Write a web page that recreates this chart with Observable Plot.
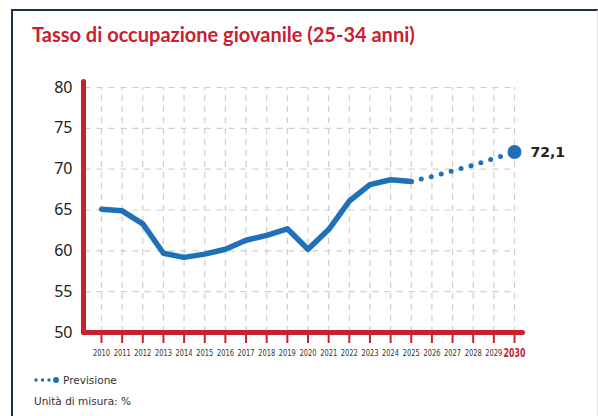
<!DOCTYPE html>
<html>
<head>
<meta charset="utf-8">
<script src="https://cdn.jsdelivr.net/npm/d3@7"></script>
<script src="https://cdn.jsdelivr.net/npm/@observablehq/plot@0.6"></script>
<style>
  html, body { margin: 0; padding: 0; background: #fff; }
  #wrap { position: relative; width: 598px; height: 416px; overflow: hidden; background: #fff; }
  #card { position: absolute; left: 11px; top: 9px; width: 584px; height: 420px;
          border-top: 2px solid #17324f; border-left: 2px solid #17324f; border-right: 1px solid #e2e2e2; }
  #title { position: absolute; left: 32px; top: 22px; font-family: Lato, sans-serif; font-weight: bold;
           font-size: 20px; color: #c8202f; white-space: nowrap; line-height: 1.2; }
  #chart { position: absolute; left: 0; top: 0; }
  #legend { position: absolute; left: 34px; top: 374px; font-family: "DejaVu Sans", sans-serif; font-size: 10.5px; color: #333; display: flex; align-items: center; }
  #unit { position: absolute; left: 34px; top: 395px; font-family: "DejaVu Sans", sans-serif; font-size: 10.5px; color: #333; }
</style>
</head>
<body>
<div id="wrap">
  <div id="card"></div>
  <div id="chart"></div>
  <div id="title">Tasso di occupazione giovanile (25-34 anni)</div>
  <div id="legend"><svg width="26" height="10" style="margin-right:3px"><circle cx="2" cy="5" r="1.7" fill="#1f70b8"/><circle cx="8.5" cy="5" r="1.7" fill="#1f70b8"/><circle cx="15" cy="5" r="1.7" fill="#1f70b8"/><circle cx="22" cy="5" r="3" fill="#1f70b8"/></svg><span>Previsione</span></div>
  <div id="unit">Unità di misura: %</div>
</div>
<script>
const years = d3.range(2010, 2031);
const actualYears = [2010,2011,2012,2013,2014,2015,2016,2017,2018,2019,2020,2021,2022,2023,2024,2025];
const actualValues = [65.1,64.9,63.3,59.7,59.2,59.6,60.2,61.3,61.9,62.7,60.2,62.6,66.1,68.1,68.7,68.5];
const forecastYears = [2025,2026,2027,2028,2029,2030];
const forecastValues = [68.5,69.1,69.8,70.5,71.3,72.1];
const yTicks = [50,55,60,65,70,75,80];

const red = "#c8202f";
const blue = "#1f70b8";

const actual = actualYears.map((y, i) => ({year: y, value: actualValues[i]}));
const forecast = forecastYears.map((y, i) => ({year: y, value: forecastValues[i]}));
const last = forecast[forecast.length - 1];

const chart = Plot.plot({
  width: 598,
  height: 372,
  marginLeft: 83,
  marginRight: 76,
  marginTop: 81,
  marginBottom: 40,
  x: {domain: [2010, 2030], insetLeft: 18, insetRight: 8},
  y: {domain: [50, 80], insetTop: 6},
  style: {fontFamily: "'Noto Sans', sans-serif", background: "transparent", overflow: "visible"},
  marks: [
    Plot.ruleY(yTicks.slice(1), {y: d => d, x1: 2009.2, x2: 2030, stroke: "#cfcfcf", strokeWidth: 1.2, strokeDasharray: "6,6"}),
    Plot.ruleX(years, {x: d => d, y1: 50, y2: 80, stroke: "#cfcfcf", strokeWidth: 1.2, strokeDasharray: "6,5"}),
    Plot.axisY({ticks: yTicks, tickSize: 0, tickPadding: 11, fontSize: 16, color: "#222", label: null, fontFamily: "'Noto Sans', sans-serif"}),
    Plot.axisX({ticks: years, tickSize: 11, stroke: red, strokeWidth: 2, text: null, label: null}),
    Plot.axisX({ticks: years.slice(0, -1), tickSize: 0, tickPadding: 17, fontSize: 9.5, color: "#333", label: null, tickFormat: d => String(d), fontFamily: "'DejaVu Sans', sans-serif"}),
    Plot.axisX({ticks: [2030], tickSize: 0, tickPadding: 16, fontSize: 11.5, color: red, fontWeight: "bold", label: null, tickFormat: d => String(d), fontFamily: "'DejaVu Sans', sans-serif"}),
    Plot.frame({anchor: "left", stroke: red, strokeWidth: 5, strokeLinecap: "round"}),
    Plot.frame({anchor: "bottom", stroke: red, strokeWidth: 5, strokeLinecap: "round"}),
    Plot.line(forecast, {x: "year", y: "value", stroke: blue, strokeWidth: 5, strokeDasharray: "0,10.3", strokeLinecap: "round"}),
    Plot.line(actual, {x: "year", y: "value", stroke: blue, strokeWidth: 5.5, strokeLinecap: "round", strokeLinejoin: "round"}),
    Plot.dot([last], {x: "year", y: "value", r: 7, fill: blue}),
    Plot.text([last], {x: "year", y: "value", text: d => d.value.toFixed(1).replace(".", ","), dx: 16, textAnchor: "start", fontWeight: "bold", fontSize: 14, fill: "#222", fontFamily: "'DejaVu Sans', sans-serif"})
  ]
});
document.getElementById("chart").appendChild(chart);
// compress the year labels horizontally, as in the narrow font of the original
d3.select(chart).selectAll('g[aria-label="x-axis tick label"] text').each(function() {
  const t = this.textContent;
  if (!t) return;
  const target = t === "2030" ? 22 : 17;
  const w = this.getComputedTextLength();
  if (!w) return;
  const k = target / w;
  const tr = this.getAttribute("transform") || "";
  this.setAttribute("transform", tr + ` scale(${k},1)`);
});
</script>
</body>
</html>
